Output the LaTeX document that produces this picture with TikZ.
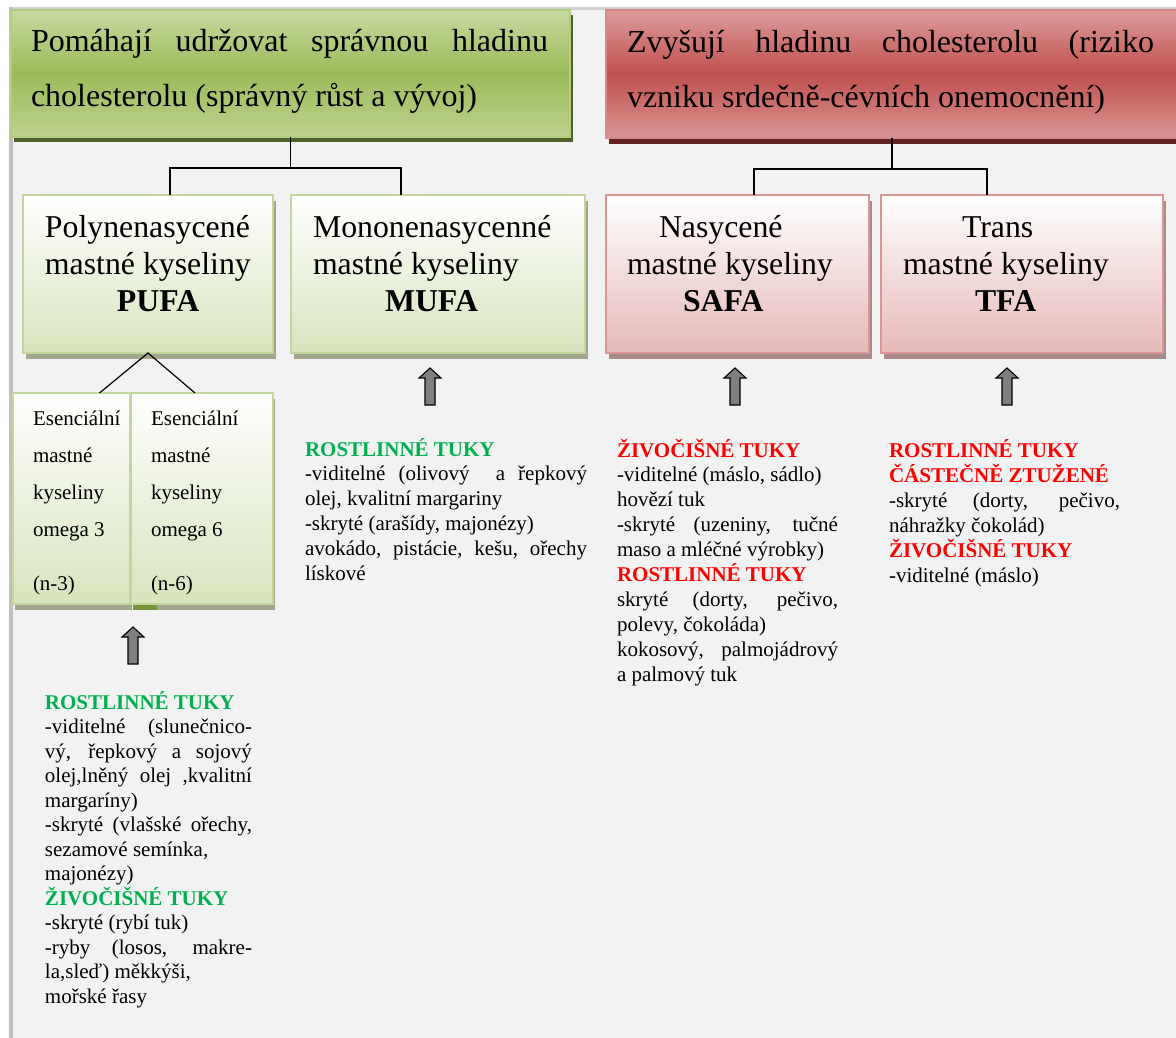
\documentclass[tikz,border=0pt]{standalone}
\usepackage{fontspec}
\IfFontExistsTF{LiberationSerif-Regular.ttf}{%
  \setmainfont{LiberationSerif-Regular.ttf}[BoldFont=LiberationSerif-Bold.ttf,ItalicFont=LiberationSerif-Italic.ttf]}{%
  \setmainfont{Liberation Serif}}
\usetikzlibrary{shadows}
\definecolor{bgc}{HTML}{F2F2F2}
\definecolor{frametop}{HTML}{D0D0D0}
\definecolor{frameleft}{HTML}{C0C0C0}
\definecolor{ghtop}{HTML}{C6D9A0}
\definecolor{ghmid}{HTML}{9BBB59}
\definecolor{ghbot}{HTML}{BDD290}
\definecolor{ghborder}{HTML}{B4CC82}
\definecolor{ghshadow}{HTML}{4F6228}
\definecolor{rhtop}{HTML}{DC9C9A}
\definecolor{rhmid}{HTML}{C0504D}
\definecolor{rhbot}{HTML}{D99694}
\definecolor{rhborder}{HTML}{D38A88}
\definecolor{rhshadow}{HTML}{632523}
\definecolor{gbot}{HTML}{D7E4BD}
\definecolor{gborder}{HTML}{C3D69B}
\definecolor{gshadow}{HTML}{A2A68C}
\definecolor{pbot}{HTML}{E6B9B8}
\definecolor{pborder}{HTML}{D99694}
\definecolor{pshadow}{HTML}{A88A89}
\definecolor{arrgray}{HTML}{7F7F7F}
\definecolor{hgreen}{HTML}{00B050}
\definecolor{hred}{HTML}{FF0000}
\definecolor{darkmark}{HTML}{77933C}
\newcommand{\jline}[2]{\makebox[#1][s]{#2}}
\begin{document}
\begin{tikzpicture}[x=1pt,y=-1pt,
  box/.style={anchor=north west, inner sep=0pt, outer sep=0pt},
  ghdr/.style={box, draw=ghborder, line width=1.5pt, top color=ghtop, bottom color=ghbot, middle color=ghmid,
     general shadow={fill=ghshadow, shadow xshift=3pt, shadow yshift=-5pt}},
  rhdr/.style={box, draw=rhborder, line width=1.5pt, top color=rhtop, bottom color=rhbot, middle color=rhmid,
     general shadow={fill=rhshadow, shadow xshift=3pt, shadow yshift=-6pt}},
  gbox/.style={box, draw=gborder, line width=2pt, top color=white, bottom color=gbot,
     general shadow={fill=gshadow, shadow xshift=3pt, shadow yshift=-6pt}},
  pbox/.style={box, draw=pborder, line width=2pt, top color=white, bottom color=pbot,
     general shadow={fill=pshadow, shadow xshift=3pt, shadow yshift=-6pt}},
  obox/.style={box, draw=gborder, line width=1.8pt, top color=white, bottom color=gbot,
     general shadow={fill=gshadow, shadow xshift=2pt, shadow yshift=-6pt}},
  conn/.style={draw=black, line width=1.4pt},
  tri/.style={draw=black, line width=1.2pt},
  txt/.style={anchor=base west, inner sep=0pt, outer sep=0pt, text=black},
  uparr/.pic={\draw[fill=arrgray, draw=black, line width=1.1pt, line join=miter]
     (-5,0) -- (-5,-27) -- (-11,-27) -- (0,-37) -- (11,-27) -- (5,-27) -- (5,0) -- cycle;}
]
\useasboundingbox (0,0) rectangle (1176,1038);
% background and frame
\fill[white] (0,0) rectangle (1176,1038);
\fill[bgc] (13,10) rectangle (1176,1038);
\fill[frametop] (9,7) rectangle (1176,10);
\fill[frameleft] (9,7) rectangle (13,1038);

% headers
\node[ghdr, minimum width=559pt, minimum height=127pt] (gh) at (11,10) {};
\node[rhdr, minimum width=572pt, minimum height=128pt] (rh) at (606,10) {};

% level 2 boxes
\node[gbox, minimum width=250pt, minimum height=158pt] (pufa) at (23,195) {};
\node[gbox, minimum width=294pt, minimum height=158pt] (mufa) at (291,195) {};
\node[pbox, minimum width=263pt, minimum height=158pt] (safa) at (606,195) {};
\node[pbox, minimum width=282pt, minimum height=158pt] (tfa) at (881,195) {};

% omega boxes
\node[obox, minimum width=117pt, minimum height=211pt] (om3) at (13,393) {};
\node[obox, minimum width=142pt, minimum height=211pt] (om6) at (131,393) {};
\fill[darkmark] (133,605) rectangle (157,610);

% connectors
\draw[conn] (gh.south) -- ++(0,31) coordinate (gj);
\draw[conn] ([xshift=22pt]pufa.north) |- (gj) -| ([xshift=-37pt]mufa.north);
\draw[conn] (rh.south) -- ++(0,31) coordinate (rj);
\draw[conn] ([xshift=16.5pt]safa.north) |- (rj) -| ([xshift=-35pt]tfa.north);
\draw[tri] ([xshift=28pt]om3.north) -- (pufa.south) -- ([xshift=-7pt]om6.north);

% block arrows
\pic at (430,405) {uparr};
\pic at (735,405) {uparr};
\pic at (1007,405) {uparr};
\pic at (133,664) {uparr};

% header texts
\node[txt] (ght) at (31,52) {\parbox[t]{530pt}{\fontsize{32}{55}\selectfont
  \jline{517pt}{Pomáhají udržovat správnou hladinu}\\
  cholesterolu (správný růst a vývoj)}};
\node[txt] (rht) at (627,53) {\parbox[t]{535pt}{\fontsize{32}{55}\selectfont
  \jline{527pt}{Zvyšují hladinu cholesterolu (riziko}\\
  vzniku srdečně-cévních onemocnění)}};

% level 2 texts
\node[txt] (pufat) at (45,237) {\parbox[t]{225pt}{\fontsize{31.8}{37}\selectfont
  Polynenasycené\\ mastné kyseliny\\ \hspace*{72pt}\textbf{PUFA}}};
\node[txt] (mufat) at (313,237) {\parbox[t]{265pt}{\fontsize{31.8}{37}\selectfont
  Mononenasycenné\\ mastné kyseliny\\ \hspace*{72pt}\textbf{MUFA}}};
\node[txt] (safat) at (627,237) {\parbox[t]{235pt}{\fontsize{31.8}{37}\selectfont
  \hspace*{32pt}Nasycené\\ mastné kyseliny\\ \hspace*{56pt}\textbf{SAFA}}};
\node[txt] (tfat) at (903,237) {\parbox[t]{255pt}{\fontsize{31.8}{37}\selectfont
  \hspace*{59pt}Trans\\ mastné kyseliny\\ \hspace*{72pt}\textbf{TFA}}};

% omega texts
\node[txt] (om3t) at (33,425) {\parbox[t]{95pt}{\fontsize{21}{37.3}\selectfont
  Esenciální\\ mastné\\ kyseliny\\ omega 3\\[16pt] (n-3)}};
\node[txt] (om6t) at (151,425) {\parbox[t]{115pt}{\fontsize{21}{37.3}\selectfont
  Esenciální\\ mastné\\ kyseliny\\ omega 6\\[16pt] (n-6)}};

% source texts
\node[txt] (mufas) at (305,456) {\parbox[t]{290pt}{\fontsize{21}{24.8}\selectfont
  \textbf{\color{hgreen}ROSTLINNÉ TUKY}\\
  \jline{282pt}{-viditelné (olivový \ a řepkový}\\
  olej, kvalitní margariny\\
  -skryté (arašídy, majonézy)\\
  \jline{282pt}{avokádo, pistácie, kešu, ořechy}\\
  lískové}};
\node[txt] (safas) at (617,457) {\parbox[t]{240pt}{\fontsize{21}{24.9}\selectfont
  \textbf{\color{hred}ŽIVOČIŠNÉ TUKY}\\
  -viditelné (máslo, sádlo)\\
  hovězí tuk\\
  \jline{221pt}{-skryté (uzeniny, tučné}\\
  maso a mléčné výrobky)\\
  \textbf{\color{hred}ROSTLINNÉ TUKY}\\
  \jline{221pt}{skryté (dorty, pečivo,}\\
  polevy, čokoláda)\\
  \jline{221pt}{kokosový, palmojádrový}\\
  a palmový tuk}};
\node[txt] (tfas) at (889,457) {\parbox[t]{245pt}{\fontsize{21}{25}\selectfont
  \textbf{\color{hred}ROSTLINNÉ TUKY}\\
  \textbf{\color{hred}ČÁSTEČNĚ ZTUŽENÉ}\\
  \jline{231pt}{-skryté (dorty, pečivo,}\\
  náhražky čokolád)\\
  \textbf{\color{hred}ŽIVOČIŠNÉ TUKY}\\
  -viditelné (máslo)}};
\node[txt] (pufas) at (45,709) {\parbox[t]{215pt}{\fontsize{21}{24.5}\selectfont
  \textbf{\color{hgreen}ROSTLINNÉ TUKY}\\
  \jline{207pt}{-viditelné (slunečnico-}\\
  \jline{207pt}{vý, řepkový a sojový}\\
  \jline{207pt}{olej,lněný olej ,kvalitní}\\
  margaríny)\\
  \jline{207pt}{-skryté (vlašské ořechy,}\\
  sezamové semínka,\\
  majonézy)\\
  \textbf{\color{hgreen}ŽIVOČIŠNÉ TUKY}\\
  -skryté (rybí tuk)\\
  \jline{207pt}{-ryby (losos, makre-}\\
  la,sleď) měkkýši,\\
  mořské řasy}};
\end{tikzpicture}
\end{document}
